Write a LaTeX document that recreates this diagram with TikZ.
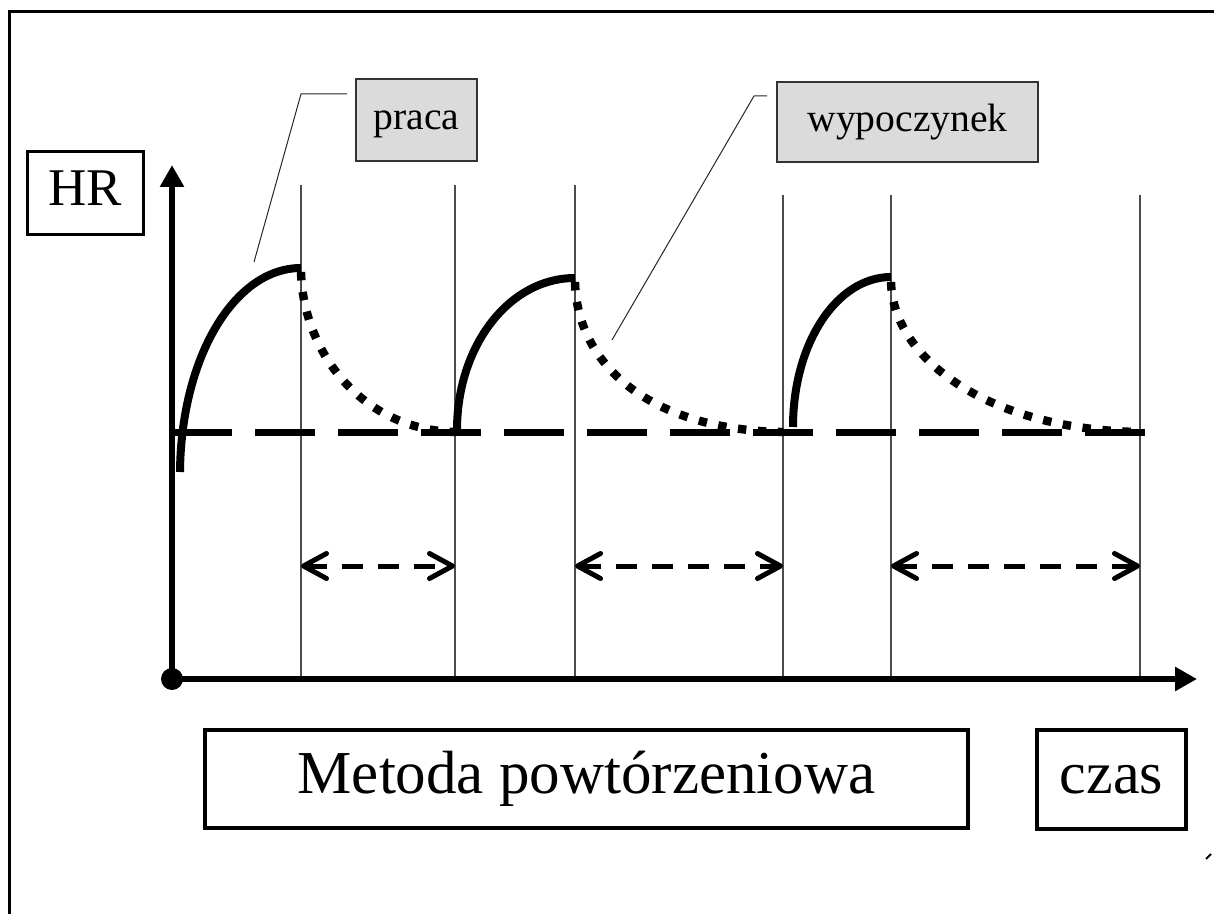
\documentclass[tikz,border=0pt]{standalone}
\usepackage{fontspec}
\setmainfont{Liberation Serif}
\usetikzlibrary{arrows.meta}

\begin{document}
\begin{tikzpicture}[x=0.5pt,y=-0.5pt,
  box/.style={draw,line width=2pt,inner sep=0pt,fill=white,execute at begin node=\strut},
  tag/.style={draw=black!80,fill=black!14,line width=0.6pt,inner sep=0pt,execute at begin node=\strut,font=\fontsize{19.8}{23}\selectfont},
  axis/.style={line width=3pt,-{Triangle[length=11pt,width=11.5pt]}},
  interval/.style={black!70,line width=0.6pt},
  work/.style={line width=4pt},
  rest/.style={line width=4.2pt,dash pattern=on 4.2pt off 5.8pt},
  level/.style={line width=3.5pt,dash pattern=on 30pt off 11.5pt},
  pause/.style={line width=2.5pt,dash pattern=on 10.5pt off 7.5pt,
    {Straight Barb[length=11.5pt,width=12.5pt,round]}-{Straight Barb[length=11.5pt,width=12.5pt,round]}},
  pointer/.style={black!85,line width=0.5pt}]
\useasboundingbox (0,0) rectangle (1214,914);
\draw[line width=1.5pt] (9,914) -- (9,12) -- (1214,12);
\draw[line width=1pt] (1206,859) -- (1211,854);

\node[box,line width=1.5pt,minimum width=58pt,minimum height=41.5pt,font=\fontsize{26.5}{31}\selectfont] (hr) at (85,193.5) {HR};
\node[tag,minimum width=60.5pt,minimum height=41pt] (praca) at (416.5,120) {praca};
\node[tag,minimum width=130.5pt,minimum height=40pt] (wyp) at (907.5,122) {wypoczynek};
\node[box,minimum width=381.5pt,minimum height=49pt,font=\fontsize{30.5}{35}\selectfont] (metoda) at (586.5,779) {Metoda powtórzeniowa};
\node[box,minimum width=74.5pt,minimum height=49.5pt,font=\fontsize{30}{35}\selectfont] (czas) at (1111.5,779) {czas};

\foreach \x/\t [count=\i] in {301/185,455/185,575/185,783/195,891/195,1140/195}{
  \coordinate (t\i) at (\x,\t);
  \coordinate (b\i) at (\x,679);
  \draw[interval] (t\i) -- (b\i);
}

\coordinate (l0) at (172,432);
\coordinate (l1) at (1147,432);
\draw[level] (l0) -- (l1);

\draw[work] (180,472) .. controls (181,358) and (234,268) .. (301,268);
\draw[work] (457,430) .. controls (457,346) and (509,278) .. (575,278);
\draw[work] (793,427) .. controls (793,343) and (837,277) .. (891,277);

\draw[rest] (301,272) .. controls (303,352) and (362,430) .. (455,432);
\draw[rest] (575,282) .. controls (577,365) and (650,430) .. (783,432);
\draw[rest] (891,282) .. controls (893,360) and (990,430) .. (1140,432);

\draw[pause] (301,566) -- (455,566);
\draw[pause] (575,566) -- (783,566);
\draw[pause] (891,566) -- (1140,566);

\node[circle,fill,inner sep=0pt,minimum size=11pt] (o) at (172,679) {};
\coordinate (ytip) at (172,165);
\coordinate (xtip) at (1197,679);
\draw[axis] (o.center) -- (ytip);
\draw[axis] (o.center) -- (xtip);

\coordinate (p0) at (254,262);
\coordinate (p1) at (301,94);
\coordinate (p2) at (347,94);
\draw[pointer] (p0) -- (p1) -- (p2);
\coordinate (w0) at (612,340);
\coordinate (w1) at (754,96);
\coordinate (w2) at (767,96);
\draw[pointer] (w0) -- (w1) -- (w2);
\end{tikzpicture}
\end{document}
